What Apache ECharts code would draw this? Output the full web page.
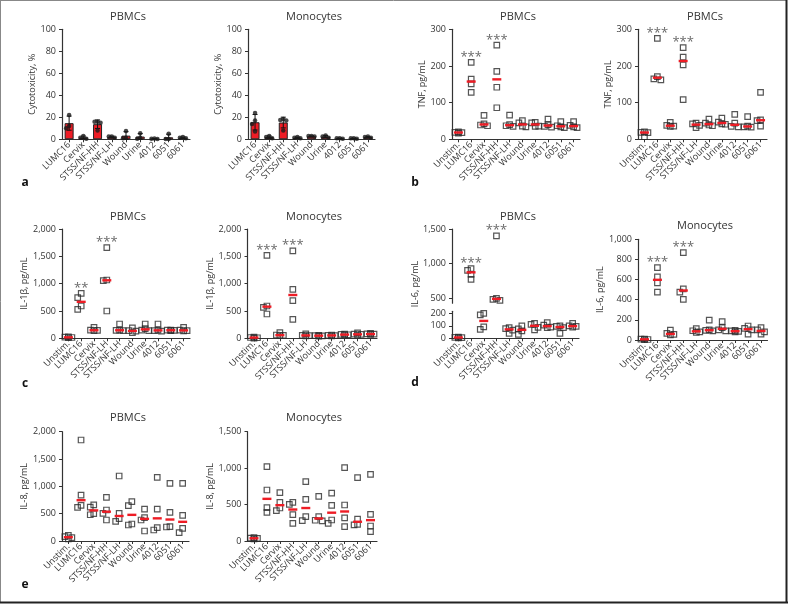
<!DOCTYPE html>
<html><head><meta charset="utf-8">
<script src="https://cdn.jsdelivr.net/npm/echarts@6/dist/echarts.min.js"></script>
<style>html,body{margin:0;padding:0;background:#fff}#c{width:788px;height:604px}</style>
</head><body><div id="c"></div>
<script>
// ---------- categories ----------
const catsCyto = ['LUMC16','Cervix','STSS/NF-HH','STSS/NF-LH','Wound','Urine','4012','6051','6061'];
const catsStim = ['Unstim.','LUMC16','Cervix','STSS/NF-HH','STSS/NF-LH','Wound','Urine','4012','6051','6061'];
const catsIl1bPBMC = ['Unstim.','LUMC16','Cervix','STSS/NF-LH','STSS/NF-LH','Wound','Urine','4012','6051','6061'];

// ---------- values (one list per category, one value per donor) ----------
const cytoPBMC = [[22,10,12],[0.5,1.5,3],[16,15,8,16],[1.5,2.5,2.5],[1,1.5,7.5],[0.5,1.5,5.5],[0.3,0.8,0.5],[0.2,0.3,5],[1,1.5,2]];
const cytoMono = [[24,17,7,14],[1,2,3],[18.5,17.5,17,8],[1,1.5,2],[2.5,3,3],[1.5,2.5,3.5],[0.5,1,1],[0.5,1,1],[1.5,2,2.5]];
const tnfPBMC1 = [[17,18,19,20],[210,164,151,128],[65,42,39,37],[257,185,142,86],[66,40,37,35],[45,51,36,34],[46,45,36,35],[55,40,35,33],[37,48,34,32],[38,48,34,32]];
const tnfPBMC2 = [[7,18,20,19],[275,171,165,162],[38,36,35,46],[250,224,203,108],[42,32,38,44],[44,39,37,55],[47,42,41,58],[68,44,34,35],[62,36,34,33],[128,53,51,36]];
const il1bPBMC = [[10,20,15,25],[823,744,591,530],[150,145,140,200],[1658,1067,1055,500],[262,150,145,140],[140,104,190,130],[177,150,140,262],[262,150,140,130],[150,145,140,150],[140,135,150,201]];
const il1bMono = [[10,15,20,5],[1518,591,567,445],[60,55,50,104],[1598,896,689,348],[55,50,45,80],[50,45,55,40],[55,50,45,60],[70,60,65,75],[70,75,60,100],[70,80,75,90]];
const il6PBMC = [[5,8,3,10],[928,904,846,774],[200,187,91,72],[1400,500,485,470],[78,85,40,65],[99,75,32,60],[120,112,88,67],[105,85,90,125],[100,95,85,40],[100,90,95,120]];
const il6Mono = [[5,10,8,3],[719,627,568,475],[66,55,50,99],[868,508,475,403],[92,80,75,112],[198,100,90,95],[182,122,100,90],[90,80,85,95],[139,59,115,100],[122,100,80,59]];
const il8PBMC = [[79,104,37,60],[1848,841,652,616],[660,620,500,480],[799,567,506,384],[1189,506,409,360],[720,646,311,293],[585,427,384,183],[1165,585,244,201],[1055,524,262,256],[1055,470,232,152]];
const il8Mono = [[40,45,35,30],[1020,700,457,393],[663,530,453,416],[530,503,361,242],[814,571,334,279],[613,334,285,275],[658,489,288,242],[1006,494,316,197],[869,300,228,222],[914,366,206,128]];

// ---------- significance marks ----------
const sig3 = ['','***','','***','','','','','',''];
const sigIl1bPBMC = ['','**','','***','','','','','',''];
const sigNone = ['','','','','','','','','',''];

// ---------- y tick values ----------
const ticksCyto = [0,20,40,60,80,100];
const ticksTnf = [0,100,200,300];
const ticks2000 = [0,500,1000,1500,2000];
const ticks1500 = [0,500,1000,1500];
const ticks1000 = [0,200,400,600,800,1000];
const ticksIl6Upper = [500,1000,1500];
const ticksIl6Lower = [0,100,200];

// ---------- helpers ----------
const FONT = 'Open Sans';
const TXT = '#333';
const RED = '#ee1c25';
const fmt = v => Number(v).toLocaleString('en-US');
const median = a => { const s=[...a].sort((x,y)=>x-y); const n=s.length; return n%2? s[(n-1)/2] : (s[n/2-1]+s[n/2])/2; };
const mean = a => a.reduce((x,y)=>x+y,0)/a.length;
const sd = a => { const m=mean(a); return Math.sqrt(a.reduce((s,v)=>s+(v-m)*(v-m),0)/(a.length-1)); };

// spread points that would overlap horizontally (small beeswarm)
function swarm(vals, ppu, size, step){
  const order = vals.map((v,i)=>i).sort((a,b)=>vals[b]-vals[a]);
  const placed=[]; const offs=new Array(vals.length).fill(0);
  const cands=[0,-step,step];
  order.forEach(i=>{
    const y=vals[i]*ppu; let best=0, bestN=Infinity;
    for(const dx of cands){
      const n = placed.filter(p=>Math.abs(p.x-dx)<step*0.9 && Math.abs(p.y-y)<size).length;
      if(n<bestN){bestN=n;best=dx;}
      if(n===0) break;
    }
    placed.push({x:best,y}); offs[i]=best;
  });
  return offs;
}

const grids=[], xAxes=[], yAxes=[], series=[];

function addGrid(g, cats, seg){
  const gi = grids.length;
  grids.push({left:g.l, top:g.t, width:g.w, height:g.h, containLabel:false});
  xAxes.push({
    type:'category', gridIndex:gi, data:cats, show: seg.showX!==false, boundaryGap:true,
    axisLine:{show:true, onZero:false, lineStyle:{color:'#333', width:1.2}},
    axisTick:{show:true, alignWithLabel:true, length:3, lineStyle:{color:'#333'}},
    axisLabel:{show:true, interval:0, rotate:45, fontSize:9, color:TXT, margin:4, fontFamily:FONT},
    splitLine:{show:false}
  });
  const y = {
    type:'value', gridIndex:gi, min:seg.min, max:seg.max,
    axisLine:{show:true, lineStyle:{color:'#333', width:1.2}},
    axisTick:{show:true, length:3, lineStyle:{color:'#333'}, customValues:seg.ticks},
    axisLabel:{fontSize:9, color:TXT, margin:6, fontFamily:FONT, formatter:v=>fmt(v), customValues:seg.ticks},
    splitLine:{show:false}
  };
  if(seg.name){ Object.assign(y,{name:seg.name, nameLocation:'middle', nameGap:seg.nameGap, nameTextStyle:{fontSize:9, color:TXT, fontFamily:FONT}}); }
  yAxes.push(y);
  return gi;
}

function scatterPanel(cats, data, sig, segs){
  segs.forEach(seg=>{
    const gi = addGrid(seg.g, cats, seg);
    const lo = seg.lo===undefined ? -Infinity : seg.lo;
    const hi = seg.hi===undefined ? Infinity : seg.hi;
    const ppu = seg.g.h/(seg.max-seg.min);
    const pts=[], meds=[], stars=[];
    data.forEach((vals,i)=>{
      const inSeg = vals.filter(v=>v>=lo && v<hi);
      const offs = swarm(inSeg, ppu, 4.5, 3.5);
      inSeg.forEach((v,j)=>pts.push({value:[i,v], symbolOffset:[offs[j],0]}));
      const m = median(vals);
      if(m>=lo && m<hi) meds.push([i,m]);
      const mx = Math.max(...vals);
      if(sig[i] && mx>=lo && mx<hi) stars.push({name:sig[i], value:[i,mx]});
    });
    series.push({type:'scatter', xAxisIndex:gi, yAxisIndex:gi, data:pts, symbol:'rect', symbolSize:5.5,
      itemStyle:{color:'rgba(0,0,0,0)', borderColor:'#2a2a2a', borderWidth:1.2}, z:3, silent:true});
    series.push({type:'custom', xAxisIndex:gi, yAxisIndex:gi, data:meds, z:5, silent:true, encode:{x:0,y:1},
      renderItem:(p,api)=>{const c=api.coord([api.value(0),api.value(1)]);
        return {type:'line', shape:{x1:c[0]-4.5,y1:c[1],x2:c[0]+4.5,y2:c[1]}, style:{stroke:RED,lineWidth:2.4}};}});
    if(stars.length) series.push({type:'scatter', xAxisIndex:gi, yAxisIndex:gi, data:stars, symbol:'rect', symbolSize:5.5,
      itemStyle:{color:'rgba(0,0,0,0)', borderWidth:0}, silent:true,
      label:{show:true, position:'top', distance:-4, formatter:p=>p.name, fontSize:13, color:'#444', fontFamily:FONT}});
  });
}

function barPanel(cats, data, seg){
  const gi = addGrid(seg.g, cats, seg);
  const ppu = seg.g.h/(seg.max-seg.min);
  const means = data.map(mean);
  const errs = data.map((v,i)=>[i, means[i], sd(v)]);
  const dots=[];
  data.forEach((vals,i)=>{ const offs=swarm(vals,ppu,3.5,3); vals.forEach((v,j)=>dots.push({value:[i,v], symbolOffset:[offs[j],0]})); });
  series.push({type:'bar', xAxisIndex:gi, yAxisIndex:gi, data:means, barWidth:9, silent:true,
    itemStyle:{color:RED, borderColor:'#222', borderWidth:1}, z:1});
  series.push({type:'custom', xAxisIndex:gi, yAxisIndex:gi, data:errs, z:3, silent:true, encode:{x:0,y:1},
    renderItem:(p,api)=>{
      const i=api.value(0), m=api.value(1), s=api.value(2);
      const t=api.coord([i,m+s]), b=api.coord([i,Math.max(0,m-s)]);
      const st={stroke:'#111',lineWidth:1};
      return {type:'group', children:[
        {type:'line', shape:{x1:t[0],y1:t[1],x2:b[0],y2:b[1]}, style:st},
        {type:'line', shape:{x1:t[0]-2.5,y1:t[1],x2:t[0]+2.5,y2:t[1]}, style:st},
        {type:'line', shape:{x1:b[0]-2.5,y1:b[1],x2:b[0]+2.5,y2:b[1]}, style:st}
      ]};
    }});
  series.push({type:'scatter', xAxisIndex:gi, yAxisIndex:gi, data:dots, symbol:'circle', symbolSize:4.5,
    itemStyle:{color:'#1a1a1a'}, z:4, silent:true});
}

// ---------- panels ----------
barPanel(catsCyto, cytoPBMC, {g:{l:62,t:29.3,w:128,h:110}, min:0, max:100, ticks:ticksCyto, name:'Cytotoxicity, %', nameGap:25});
barPanel(catsCyto, cytoMono, {g:{l:248,t:29.3,w:127,h:110}, min:0, max:100, ticks:ticksCyto, name:'Cytotoxicity, %', nameGap:23});
scatterPanel(catsStim, tnfPBMC1, sig3, [{g:{l:452,t:29.3,w:128,h:110}, min:0, max:300, ticks:ticksTnf, name:'TNF, pg/mL', nameGap:24}]);
scatterPanel(catsStim, tnfPBMC2, sig3, [{g:{l:638,t:29.3,w:129,h:110}, min:0, max:300, ticks:ticksTnf, name:'TNF, pg/mL', nameGap:21}]);
scatterPanel(catsIl1bPBMC, il1bPBMC, sigIl1bPBMC, [{g:{l:62,t:229,w:128,h:109.3}, min:0, max:2000, ticks:ticks2000, name:'IL-1β, pg/mL', nameGap:32}]);
scatterPanel(catsStim, il1bMono, sig3, [{g:{l:247.5,t:229,w:129.5,h:109.3}, min:0, max:2000, ticks:ticks2000, name:'IL-1β, pg/mL', nameGap:31}]);
scatterPanel(catsStim, il6PBMC, sig3, [
  {g:{l:452,t:229,w:127,h:74.2}, min:430, max:1500, ticks:ticksIl6Upper, lo:300, showX:false},
  {g:{l:452,t:311.3,w:127,h:27}, min:0, max:216, ticks:ticksIl6Lower, hi:300}
]);
scatterPanel(catsStim, il6Mono, sig3, [{g:{l:638,t:239.3,w:129.5,h:100.7}, min:0, max:1000, ticks:ticks1000, name:'IL-6, pg/mL', nameGap:31}]);
scatterPanel(catsStim, il8PBMC, sigNone, [{g:{l:62,t:431.7,w:127,h:109.3}, min:0, max:2000, ticks:ticks2000, name:'IL-8, pg/mL', nameGap:32}]);
scatterPanel(catsStim, il8Mono, sigNone, [{g:{l:247.5,t:431.7,w:129.5,h:109.3}, min:0, max:1500, ticks:ticks1500, name:'IL-8, pg/mL', nameGap:32}]);

// ---------- text annotations ----------
const titles = [['PBMCs',128,17],['Monocytes',314,17],['PBMCs',518,17],['PBMCs',705,17],
  ['PBMCs',128,217],['Monocytes',314,217],['PBMCs',518,217],['Monocytes',705,226],
  ['PBMCs',128,418],['Monocytes',314,418]];
const letters = [['a',25,183],['b',415,183],['c',25,384],['d',415,383],['e',25,585]];
const graphic = [];
titles.forEach(([t,x,y])=>graphic.push({type:'text', x, y, silent:true,
  style:{text:t, fontSize:11, fontFamily:FONT, fill:TXT, align:'center', verticalAlign:'middle'}}));
letters.forEach(([t,x,y])=>graphic.push({type:'text', x, y, silent:true,
  style:{text:t, fontSize:12, fontWeight:'bold', fontFamily:FONT, fill:'#111', align:'center', verticalAlign:'middle'}}));
graphic.push({type:'text', x:415, y:284, rotation:Math.PI/2, silent:true,
  style:{text:'IL-6, pg/mL', fontSize:9, fontFamily:FONT, fill:TXT, align:'center', verticalAlign:'middle'}});
// frame
graphic.push({type:'line', shape:{x1:0.5,y1:0.5,x2:0.5,y2:603}, style:{stroke:'#888',lineWidth:1}, silent:true});
graphic.push({type:'line', shape:{x1:0,y1:0.5,x2:787,y2:0.5}, style:{stroke:'#888',lineWidth:1}, silent:true});
graphic.push({type:'line', shape:{x1:786.5,y1:0,x2:786.5,y2:603}, style:{stroke:'#222',lineWidth:2}, silent:true});
graphic.push({type:'line', shape:{x1:0,y1:602.5,x2:788,y2:602.5}, style:{stroke:'#222',lineWidth:2}, silent:true});

const chart = echarts.init(document.getElementById('c'), null, {renderer:'canvas'});
chart.setOption({animation:false, backgroundColor:'#fff', grid:grids, xAxis:xAxes, yAxis:yAxes, series, graphic});
</script></body></html>
